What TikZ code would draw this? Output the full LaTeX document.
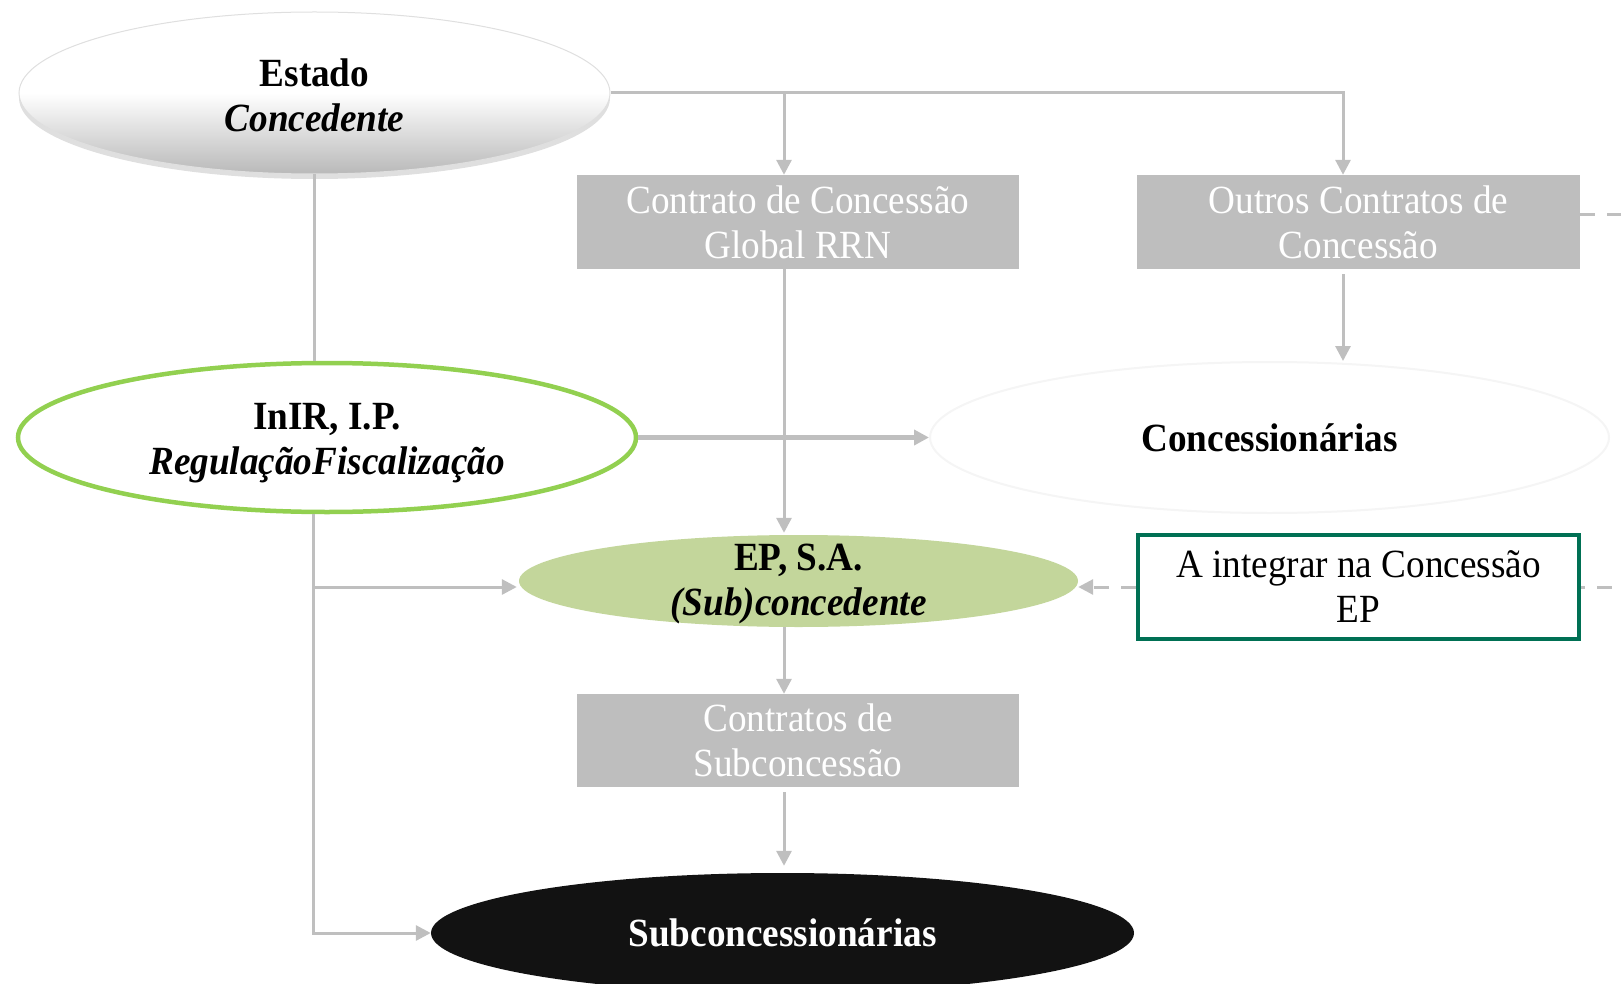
\documentclass[tikz,border=0pt]{standalone}
\usepackage{fontspec}
\setmainfont{Liberation Serif}[FakeStretch=0.93]
\usetikzlibrary{shapes.geometric,arrows.meta,shadows}
\definecolor{lgray}{RGB}{191,191,191}
\definecolor{boxgray}{RGB}{190,190,190}
\definecolor{inirgreen}{RGB}{146,208,80}
\definecolor{epgreen}{RGB}{195,214,155}
\definecolor{teal}{RGB}{0,112,84}
\definecolor{subblack}{RGB}{18,18,18}
\begin{document}
\begin{tikzpicture}[x=1pt,y=-1pt,
  every node/.style={font=\fontsize{40}{45}\selectfont, align=center, inner sep=0pt},
  txt/.style 2 args={label={[align=center, font=\fontsize{40}{45}\selectfont, inner sep=0pt, yshift=#1]center:#2}},
  graybox/.style={rectangle, fill=boxgray, text=white, minimum width=442pt, minimum height=94pt},
  conn/.style={draw=lgray, line width=3pt},
  arr/.style={conn, -{Triangle[length=15pt,width=15pt]}},
  dasharr/.style={arr, dash pattern=on 15pt off 12pt},
  dashline/.style={conn, dash pattern=on 15pt off 12pt}]
\useasboundingbox (0,0) rectangle (1621,984);
\clip (0,0) rectangle (1621,984);

% nodes
\node[ellipse, minimum width=591pt, minimum height=162pt, top color=white, bottom color=gray!55, middle color=white,
      draw=gray!25, line width=1pt,
      drop shadow={shadow xshift=0pt, shadow yshift=-5pt, opacity=0.25},
      txt={-2pt}{\textbf{Estado}\\\textbf{\textit{Concedente}}}] (estado) at (314.5,93) {};
\node[graybox] (box1) at (798,222) {Contrato de Concessão\\Global RRN};
\node[graybox, minimum width=443pt] (box2) at (1358.5,222) {Outros Contratos de\\Concessão};
\node[ellipse, minimum width=618pt, minimum height=149pt, draw=inirgreen, line width=4.5pt, fill=white,
      txt={-6pt}{\textbf{InIR, I.P.}\\\textbf{\textit{RegulaçãoFiscalização}}}] (inir) at (327,437.5) {};
\node[ellipse, minimum width=679pt, minimum height=151pt, draw=gray!8, line width=2pt, fill=white] (conc) at (1269.5,437.5)
      {\textbf{Concessionárias}};
\node[ellipse, minimum width=559pt, minimum height=92pt, fill=epgreen,
      txt={-3pt}{\textbf{EP, S.A.}\\\textbf{\textit{(Sub)concedente}}}] (ep) at (798.5,581) {};
\node[rectangle, minimum width=441pt, minimum height=104pt, draw=teal, line width=4pt, fill=white] (integ) at (1358.5,587)
      {A integrar na Concessão\\EP};
\node[graybox, minimum height=93pt] (box4) at (798,740.5) {Contratos de\\Subconcessão};
\node[ellipse, minimum width=703pt, minimum height=120pt, fill=subblack, text=white] (subc) at (782.5,933)
      {\textbf{Subconcessionárias}};

% anchor coordinates for the off-centre connectors
\coordinate (b1top) at ([xshift=-14pt]box1.north);
\coordinate (b1bot) at ([xshift=-14pt]box1.south);
\coordinate (b2top) at ([xshift=-15.5pt]box2.north);
\coordinate (b2bot) at ([xshift=-15.5pt]box2.south);
\coordinate (b4top) at ([xshift=-14pt]box4.north);
\coordinate (b4bot) at ([xshift=-14pt]box4.south);
\coordinate (lft) at ([xshift=-14pt]inir.south);
\coordinate (b2out) at ([yshift=7pt]box2.east);
\coordinate (far) at (1680,0);

% connectors
\draw[arr] (estado.east) -| (b2top);
\draw[arr] (b1top |- estado.east) -- (b1top);
\draw[conn] (estado.south) -- (estado.south |- inir.north);
\draw[arr] (b1bot) -- ([yshift=2pt]b1bot |- ep.north);
\draw[arr, shorten <=5pt] (b2bot) -- (b2bot |- conc.north);
\draw[conn, line width=4.5pt, -{Triangle[length=15pt,width=15pt]}] (inir.east) -- (conc.west);
\draw[arr] (lft) |- (subc.west);
\draw[arr] (lft |- integ.west) -- ([xshift=-2pt]ep.west |- integ.west);
\draw[arr] (b4top |- ep.south) -- (b4top);
\draw[arr, shorten <=5pt] (b4bot) -- ([yshift=7pt]b4bot |- subc.north);
\draw[dasharr] (integ.west) -- (ep.east |- integ.west);
\draw[dashline] (b2out) -- (b2out -| far) |- (integ.east);
\end{tikzpicture}
\end{document}
